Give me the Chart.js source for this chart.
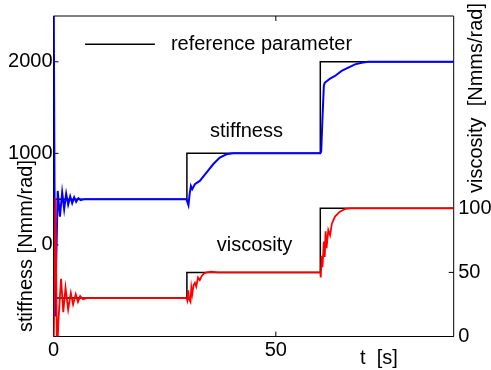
<!DOCTYPE html>
<html>
<head>
<meta charset="utf-8">
<script src="https://cdn.jsdelivr.net/npm/chart.js@4.4.1/dist/chart.umd.min.js"></script>
<style>
  html, body { margin: 0; padding: 0; background: #fff; overflow: hidden; }
  #wrap { position: relative; width: 491px; height: 370px; }
</style>
</head>
<body>
<div id="wrap"><canvas id="chart"></canvas></div>
<script>
const FONT = "'Liberation Sans', Arial, Helvetica, sans-serif";

// reference parameter (step changes)
const refTime = [0, 30, 30, 60, 60, 90];
const refStiffness = [500, 500, 1000, 1000, 2000, 2000];
const refViscosity = [30, 30, 50, 50, 100, 100];

// estimated stiffness [Nmm/rad]
const stiffTime = [0, 0.35, 0.95, 1.45, 1.95, 2.4, 2.85, 3.3, 3.75, 4.2, 4.65, 5.1, 5.6, 6.1, 7,
  29.9, 30.1, 30.35, 30.6, 30.9, 31.2, 31.8, 32.9, 34.4, 35.9, 37.4, 38.9, 40.4, 45,
  60, 60.2, 60.5, 60.8, 61.0, 61.5, 62.2, 63.3, 64.8, 66.3, 67.8, 69.3, 70.8, 90];
const stiffValues = [3300, -780, 590, 310, 575, 390, 560, 440, 530, 455, 520, 470, 510, 490, 500,
  500, 470, 433, 550, 644, 608, 663, 699, 790, 881, 954, 990, 1000, 1000,
  1000, 1020, 1400, 1740, 1770, 1790, 1816, 1845, 1900, 1936, 1972, 1990, 2000, 2000];

// estimated viscosity [Nmms/rad]
const viscTime = [0, 0.45, 0.8, 1.1, 1.7, 2.2, 2.7, 3.3, 3.9, 4.4, 5.0, 5.5, 6.0, 6.6, 7.5,
  29.9, 30.1, 30.3, 30.5, 30.8, 31.0, 31.2, 31.5, 31.8, 32.1, 32.5, 32.9, 33.3, 33.8, 34.4, 35.5, 37, 40,
  60, 60.1, 60.3, 60.5, 60.8, 61.0, 61.2, 61.4, 61.8, 62.2, 62.6, 63.3, 64.4, 65.6, 67.1, 90];
const viscValues = [-20, 108, -20, 12, 45, 19, 38, 21, 34, 25, 33, 27, 31.5, 29, 30,
  30, 28, 36, 29, 27, 38, 33, 40, 42, 39, 46, 44, 47, 49, 50, 50.5, 50, 50,
  50, 46, 63, 54, 74, 62, 82, 69, 83, 79, 88, 93.5, 97.4, 99.5, 100, 100];

// labelled ticks
const stiffTickLabels = [0, 1000, 2000];
const viscTickLabels = [0, 50, 100];
const timeTickLabels = [0, 50];

function toPoints(xs, ys) {
  return xs.map((x, i) => ({ x, y: ys[i] }));
}

const TICK = 5;

const frameAndTicks = {
  id: "frameAndTicks",
  beforeDatasetsDraw(chart) {
    const { ctx, chartArea: a, scales } = chart;
    ctx.save();
    ctx.strokeStyle = "#000";
    ctx.lineWidth = 1;
    ctx.beginPath();
    ctx.rect(a.left, a.top, a.right - a.left, a.bottom - a.top);
    scales.x.ticks.forEach((t) => {
      const px = scales.x.getPixelForValue(t.value);
      ctx.moveTo(px, a.bottom); ctx.lineTo(px, a.bottom - TICK);
      ctx.moveTo(px, a.top); ctx.lineTo(px, a.top + TICK);
    });
    scales.ys.ticks.forEach((t) => {
      const py = scales.ys.getPixelForValue(t.value);
      ctx.moveTo(a.left, py); ctx.lineTo(a.left + TICK, py);
    });
    scales.yv.ticks.forEach((t) => {
      const py = scales.yv.getPixelForValue(t.value);
      ctx.moveTo(a.right, py); ctx.lineTo(a.right - TICK, py);
    });
    ctx.stroke();
    ctx.restore();
  },
  afterDatasetsDraw(chart) {
    const { ctx, scales } = chart;
    const x = scales.x, ys = scales.ys, yv = scales.yv;
    ctx.save();
    ctx.fillStyle = "#000";
    ctx.font = "20px " + FONT;
    ctx.textBaseline = "alphabetic";

    // legend
    ctx.strokeStyle = "#000";
    ctx.lineWidth = 1.5;
    ctx.beginPath();
    ctx.moveTo(x.getPixelForValue(7.1), ys.getPixelForValue(2191));
    ctx.lineTo(x.getPixelForValue(22.8), ys.getPixelForValue(2191));
    ctx.stroke();
    ctx.textAlign = "left";
    ctx.fillText("reference parameter", x.getPixelForValue(26.4), ys.getPixelForValue(2129));

    // curve labels
    ctx.textAlign = "center";
    ctx.fillText("stiffness", x.getPixelForValue(43.4), ys.getPixelForValue(1183));
    ctx.fillText("viscosity", x.getPixelForValue(45.2), yv.getPixelForValue(67));

    // x axis title
    ctx.textAlign = "left";
    ctx.fillText("t  [s]", 360, 364);

    // y axis titles
    ctx.textAlign = "center";
    ctx.save();
    ctx.translate(32, 246);
    ctx.rotate(-Math.PI / 2);
    ctx.fillText("stiffness [Nmm/rad]", 0, 0);
    ctx.restore();
    ctx.save();
    ctx.translate(482, 98);
    ctx.rotate(-Math.PI / 2);
    ctx.fillText("viscosity  [Nmms/rad]", 0, 0);
    ctx.restore();

    ctx.restore();
  }
};

Chart.defaults.color = "#000";
Chart.defaults.font.family = FONT;
Chart.defaults.font.size = 20;

new Chart(document.getElementById("chart"), {
  type: "line",
  data: {
    datasets: [
      {
        label: "viscosity",
        data: toPoints(viscTime, viscValues),
        xAxisID: "x", yAxisID: "yv",
        borderColor: "#ff0000", borderWidth: 1.8, order: 1
      },
      {
        label: "stiffness",
        data: toPoints(stiffTime, stiffValues),
        xAxisID: "x", yAxisID: "ys",
        borderColor: "#0000ff", borderWidth: 2, order: 2
      },
      {
        label: "reference parameter",
        data: toPoints(refTime, refStiffness),
        xAxisID: "x", yAxisID: "ys",
        borderColor: "#000", borderWidth: 1.5, order: 3
      },
      {
        label: "reference parameter (viscosity)",
        data: toPoints(refTime, refViscosity),
        xAxisID: "x", yAxisID: "yv",
        borderColor: "#000", borderWidth: 1.5, order: 3
      }
    ]
  },
  options: {
    responsive: true,
    maintainAspectRatio: false,
    animation: false,
    layout: { padding: { left: 8, right: 0, top: 16, bottom: 8 } },
    elements: { point: { radius: 0 }, line: { tension: 0 } },
    plugins: { legend: { display: false }, tooltip: { enabled: false } },
    scales: {
      x: {
        type: "linear", position: "bottom", min: 0, max: 90,
        grid: { display: false, drawTicks: false },
        border: { display: false },
        afterFit: (s) => { s.height = 25.5; s.paddingLeft = 0; s.paddingRight = 0; },
        ticks: {
          stepSize: 10, autoSkip: false, maxRotation: 0, padding: 1.5,
          callback: (v) => timeTickLabels.includes(v) ? String(v) : null
        }
      },
      ys: {
        type: "linear", position: "left", min: -1000, max: 2500,
        grid: { display: false, drawTicks: false },
        border: { display: false },
        afterFit: (s) => { s.width = 45.5; s.paddingTop = 0; s.paddingBottom = 0; },
        ticks: {
          stepSize: 200, autoSkip: false, padding: 1,
          callback: (v) => stiffTickLabels.includes(v) ? String(v) : null
        }
      },
      yv: {
        type: "linear", position: "right", min: 0, max: 250,
        grid: { display: false, drawTicks: false },
        border: { display: false },
        afterFit: (s) => { s.width = 37.3; s.paddingTop = 0; s.paddingBottom = 0; },
        ticks: {
          stepSize: 25, autoSkip: false, padding: 4.5,
          callback: (v) => viscTickLabels.includes(v) ? String(v) : null
        }
      }
    }
  },
  plugins: [frameAndTicks]
});
</script>
</body>
</html>
